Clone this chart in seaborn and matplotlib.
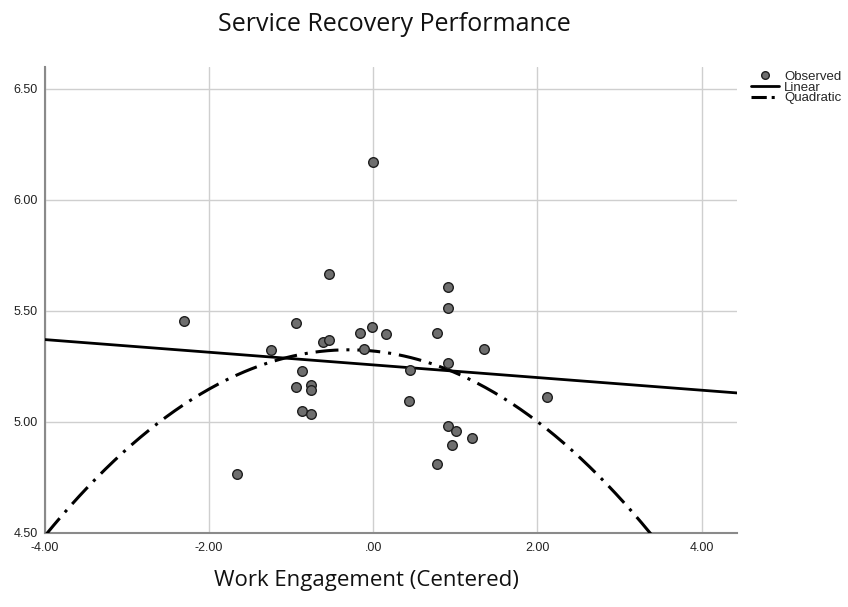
import numpy as np
import pandas as pd
import matplotlib
matplotlib.use("Agg")
import matplotlib.pyplot as plt
from matplotlib.lines import Line2D
import seaborn as sns

# Observed cases: centered work engagement vs. service recovery performance
work_engagement = [0.00, -0.544, 0.909, 0.909, -0.937, -2.311, -0.016, -0.162,
                   0.155, 0.782, -0.617, -0.544, -1.249, -0.113, 1.354, 0.912,
                   0.446, -0.867, -0.940, -0.754, -0.754, 0.434, -0.867, -0.763,
                   0.912, 1.010, 1.208, 0.953, -1.655, 0.779, 2.117]
recovery_perf = [6.170, 5.665, 5.607, 5.514, 5.445, 5.457, 5.429, 5.402,
                 5.394, 5.402, 5.358, 5.367, 5.323, 5.329, 5.329, 5.266,
                 5.235, 5.230, 5.158, 5.167, 5.142, 5.093, 5.049, 5.036,
                 4.980, 4.957, 4.929, 4.894, 4.766, 4.811, 5.114]

# Fitted curve coefficients (intercept, slope, quadratic term)
linear_coef = [5.257, -0.0285]
quadratic_coef = [5.3195, -0.0367, -0.0612]

x_ticks = [-4.0, -2.0, 0.0, 2.0, 4.0]
x_tick_labels = ["-4.00", "-2.00", ".00", "2.00", "4.00"]
y_ticks = [4.5, 5.0, 5.5, 6.0, 6.5]
y_tick_labels = ["4.50", "5.00", "5.50", "6.00", "6.50"]

sns.set_style("white")
plt.rcParams["font.family"] = ["Liberation Sans", "DejaVu Sans"]

fig = plt.figure(figsize=(8.48, 6.07), dpi=100)
ax = fig.add_axes([0.053, 0.122, 0.816, 0.768])

x_min, x_max = -4.0, 4.43
y_min, y_max = 4.5, 6.60

grid_x = np.linspace(x_min, x_max, 400)
fits = pd.DataFrame({
    "x": grid_x,
    "linear": linear_coef[0] + linear_coef[1] * grid_x,
    "quadratic": quadratic_coef[0] + quadratic_coef[1] * grid_x + quadratic_coef[2] * grid_x ** 2,
})
obs = pd.DataFrame({"x": work_engagement, "y": recovery_perf})

ax.set_xlim(x_min, x_max)
ax.set_ylim(y_min, y_max)
ax.set_xticks(x_ticks)
ax.set_xticklabels(x_tick_labels)
ax.set_yticks(y_ticks)
ax.set_yticklabels(y_tick_labels)
ax.grid(True, color="#cfcfcf", linewidth=1.0)
ax.set_axisbelow(True)

dash_dot = [7.5, 2.6, 1.0, 2.6]
sns.lineplot(data=fits, x="x", y="linear", ax=ax, color="black", linewidth=2.0,
             zorder=3, legend=False)
sns.lineplot(data=fits, x="x", y="quadratic", ax=ax, color="black", linewidth=2.2,
             zorder=3, legend=False)
ax.lines[-1].set_dashes(dash_dot)
sns.scatterplot(data=obs, x="x", y="y", ax=ax, s=48, color="#6e6e6e",
                edgecolor="#1e1e1e", linewidth=1.0, zorder=4, legend=False)

for side in ["top", "right"]:
    ax.spines[side].set_visible(False)
for side in ["left", "bottom"]:
    ax.spines[side].set_color("#8a8a8a")
    ax.spines[side].set_linewidth(1.5)
ax.tick_params(axis="both", length=0, labelsize=9, labelcolor="#222222")
ax.tick_params(axis="x", pad=6.5)
ax.tick_params(axis="y", pad=5)
ax.set_xlabel("")
ax.set_ylabel("")

fig.text(0.465, 0.960, "Service Recovery Performance", ha="center", va="center",
         fontsize=18, family=["Open Sans", "DejaVu Sans"], color="#111111")
fig.text(0.432, 0.044, "Work Engagement (Centered)", ha="center", va="center",
         fontsize=16, family=["Open Sans", "DejaVu Sans"], color="#111111")

handles = [
    Line2D([], [], marker="o", linestyle="none", markersize=5.5,
           markerfacecolor="#6e6e6e", markeredgecolor="#1e1e1e"),
    Line2D([], [], color="black", linewidth=2.0),
    Line2D([], [], color="black", linewidth=2.2, dashes=[5, 1.6, 1.0, 1.6]),
]
fig.legend(handles, ["Observed", "Linear", "Quadratic"], loc="upper left",
           bbox_to_anchor=(0.886, 0.884), frameon=False, fontsize=9.5,
           handlelength=2.1, handletextpad=0.4, labelspacing=-0.1,
           borderaxespad=0, borderpad=0)

fig.savefig("out.png", dpi=100)
